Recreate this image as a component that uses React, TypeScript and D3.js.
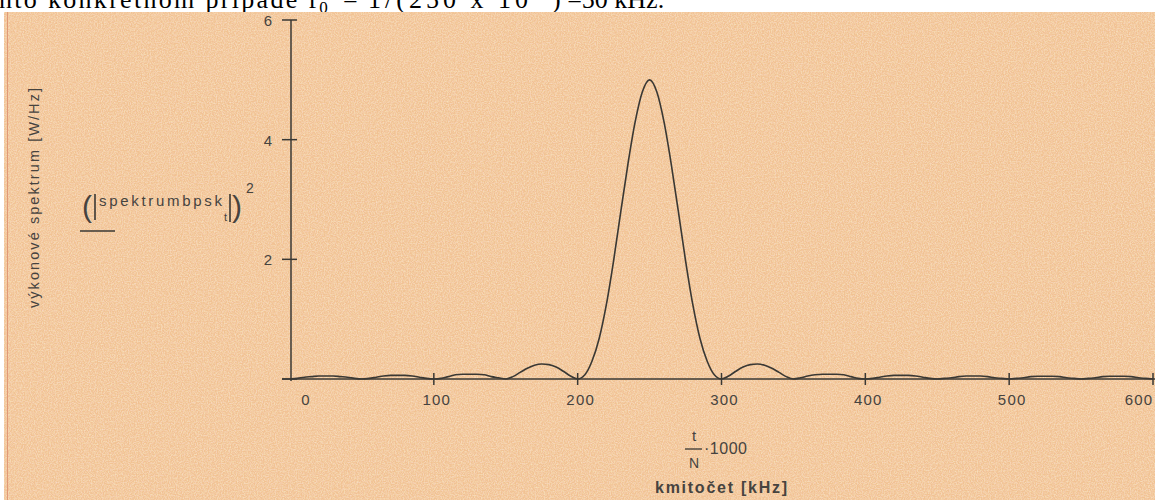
import { useEffect, useRef } from 'react';
import * as d3 from 'd3';

const freqs = d3.range(0, 605, 5);
const power = [
  0.0, 0.01, 0.03, 0.04, 0.05, 0.05, 0.05, 0.04, 0.03, 0.01,
  0.0, 0.01, 0.03, 0.05, 0.06, 0.06, 0.06, 0.05, 0.03, 0.01,
  0.0, 0.01, 0.04, 0.07, 0.08, 0.08, 0.08, 0.07, 0.04, 0.02,
  0.0, 0.04, 0.11, 0.18, 0.23, 0.25, 0.24, 0.2, 0.13, 0.05,
  0.0, 0.07, 0.3, 0.68, 1.25, 1.98, 2.8, 3.6, 4.3, 4.8,
  5.0, 4.8, 4.3, 3.6, 2.8, 1.98, 1.25, 0.68, 0.3, 0.07,
  0.0, 0.05, 0.13, 0.2, 0.24, 0.25, 0.23, 0.18, 0.11, 0.04,
  0.0, 0.02, 0.05, 0.07, 0.08, 0.08, 0.08, 0.07, 0.04, 0.01,
  0.0, 0.01, 0.03, 0.05, 0.06, 0.06, 0.06, 0.05, 0.03, 0.01,
  0.0, 0.01, 0.02, 0.04, 0.05, 0.05, 0.05, 0.04, 0.02, 0.01,
  0.0, 0.01, 0.02, 0.04, 0.045, 0.045, 0.045, 0.04, 0.02, 0.01,
  0.0, 0.01, 0.02, 0.04, 0.045, 0.045, 0.045, 0.04, 0.02, 0.01,
  0.0,
];
const xTicks = [0, 100, 200, 300, 400, 500, 600];
const yTicks = [0, 2, 4, 6];

const W = 1155;
const H = 500;
const INK = '#3a3834';
const TXT = '#46433f';

export default function App() {
  const ref = useRef<SVGSVGElement>(null);

  useEffect(() => {
    document.body.style.margin = '0';
    const svg = d3.select(ref.current);
    svg.selectAll('*').remove();

    const x = d3.scaleLinear().domain([0, 600]).range([290, 1153]);
    const y = d3.scaleLinear().domain([0, 6]).range([379, 20]);
    const sans = '"Liberation Sans", Arial, sans-serif';

    // paper grain
    const defs = svg.append('defs');
    const f1 = defs.append('filter').attr('id', 'grainA').attr('x', 0).attr('y', 0).attr('width', 1).attr('height', 1);
    f1.append('feTurbulence').attr('type', 'fractalNoise').attr('baseFrequency', 0.85).attr('numOctaves', 1).attr('seed', 3).attr('result', 'n');
    f1.append('feColorMatrix').attr('in', 'n').attr('type', 'matrix')
      .attr('values', '0 0 0 0 0.96  0 0 0 0 0.72  0 0 0 0 0.64  1.8 0 0 0 -0.75');
    f1.append('feComposite').attr('in2', 'SourceGraphic').attr('operator', 'in');
    const f2 = defs.append('filter').attr('id', 'grainB').attr('x', 0).attr('y', 0).attr('width', 1).attr('height', 1);
    f2.append('feTurbulence').attr('type', 'fractalNoise').attr('baseFrequency', 0.7).attr('numOctaves', 1).attr('seed', 11).attr('result', 'n');
    f2.append('feColorMatrix').attr('in', 'n').attr('type', 'matrix')
      .attr('values', '0 0 0 0 0.94  0 0 0 0 0.8  0 0 0 0 0.5  0 1.8 0 0 -0.8');
    f2.append('feComposite').attr('in2', 'SourceGraphic').attr('operator', 'in');

    svg.append('rect').attr('width', W).attr('height', H).attr('fill', '#ffffff');

    // cut-off text line above the scan
    const top = svg.append('text').attr('y', 8).attr('font-family', '"Liberation Serif", serif')
      .attr('font-size', 26).attr('fill', '#000');
    top.append('tspan').attr('x', -1).attr('textLength', 318).attr('lengthAdjust', 'spacing').text('nto konkrétnom prípade f');
    top.append('tspan').attr('font-size', 17).attr('dy', 5).text('0');
    top.append('tspan').attr('dy', -5).attr('x', 343).text('=');
    top.append('tspan').attr('x', 368).attr('textLength', 160).attr('lengthAdjust', 'spacing').text('1/(250 x 10');
    top.append('tspan').attr('font-size', 17).attr('dy', -10).text('-6');
    top.append('tspan').attr('dy', 10).attr('x', 552).text(') =50 kHz.');

    const bg = svg.append('g');
    bg.append('rect').attr('x', 4).attr('y', 12).attr('width', W - 4).attr('height', H - 12).attr('fill', '#f1c293');
    bg.append('rect').attr('x', 4).attr('y', 12).attr('width', W - 4).attr('height', H - 12).attr('fill', '#fff').attr('filter', 'url(#grainA)');
    bg.append('rect').attr('x', 4).attr('y', 12).attr('width', W - 4).attr('height', H - 12).attr('fill', '#fff').attr('filter', 'url(#grainB)');
    bg.append('line').attr('x1', 7.5).attr('x2', 7.5).attr('y1', 12).attr('y2', H)
      .attr('stroke', '#e09a78').attr('stroke-width', 1);

    const g = svg.append('g');

    // axes
    g.append('line').attr('x1', x.range()[0] - 8).attr('x2', W).attr('y1', y(0)).attr('y2', y(0))
      .attr('stroke', INK).attr('stroke-width', 1.5);
    g.append('line').attr('x1', x(0) + 1).attr('x2', x(0) + 1).attr('y1', y(6)).attr('y2', y(0) + 2)
      .attr('stroke', INK).attr('stroke-width', 1.5);

    g.selectAll('line.xt').data(xTicks.slice(1)).enter().append('line').attr('class', 'xt')
      .attr('x1', d => x(d)).attr('x2', d => x(d)).attr('y1', y(0) - 6).attr('y2', y(0) + 6)
      .attr('stroke', INK).attr('stroke-width', 1.5);
    g.selectAll('line.yt').data(yTicks).enter().append('line').attr('class', 'yt')
      .attr('x1', x(0) - 8).attr('x2', x(0) + 7).attr('y1', d => y(d)).attr('y2', d => y(d))
      .attr('stroke', INK).attr('stroke-width', 1.5);

    g.selectAll('text.xl').data(xTicks).enter().append('text').attr('class', 'xl')
      .attr('x', (d, i) => x(d) + (i === 0 ? 16 : i === xTicks.length - 1 ? -14 : 3))
      .attr('y', y(0) + 26).attr('text-anchor', 'middle')
      .attr('font-family', sans).attr('font-size', 15)
      .attr('letter-spacing', 1.2).attr('fill', TXT).text(d => d);
    g.selectAll('text.yl').data(yTicks.slice(1)).enter().append('text').attr('class', 'yl')
      .attr('x', x(0) - 18).attr('y', d => y(d) + 6).attr('text-anchor', 'end')
      .attr('font-family', sans).attr('font-size', 15)
      .attr('fill', TXT).text(d => d);

    // curve
    const line = d3.line<number>().x((_, i) => x(freqs[i])).y(d => y(d)).curve(d3.curveMonotoneX);
    g.append('path').datum(power).attr('d', line).attr('fill', 'none')
      .attr('stroke', INK).attr('stroke-width', 1.6).attr('stroke-linejoin', 'round');

    // y title
    g.append('text').attr('transform', 'translate(39,198) rotate(-90)').attr('text-anchor', 'middle')
      .attr('font-family', sans).attr('font-size', 14.5).attr('fill', TXT)
      .attr('textLength', 220).attr('lengthAdjust', 'spacing').text('výkonové spektrum [W/Hz]');

    // Mathcad expression
    const ex = g.append('g').attr('fill', TXT).attr('font-family', sans);
    ex.append('text').attr('x', 82).attr('y', 217).attr('font-size', 30).text('(');
    ex.append('line').attr('x1', 95).attr('x2', 95).attr('y1', 194).attr('y2', 220).attr('stroke', INK).attr('stroke-width', 1.6);
    ex.append('text').attr('x', 99).attr('y', 206).attr('font-size', 15)
      .attr('textLength', 123).attr('lengthAdjust', 'spacing').text('spektrumbpsk');
    ex.append('text').attr('x', 224).attr('y', 221).attr('font-size', 11).text('t');
    ex.append('line').attr('x1', 230).attr('x2', 230).attr('y1', 194).attr('y2', 222).attr('stroke', INK).attr('stroke-width', 1.6);
    ex.append('text').attr('x', 232).attr('y', 217).attr('font-size', 30).text(')');
    ex.append('text').attr('x', 246).attr('y', 193).attr('font-size', 14).text('2');
    ex.append('line').attr('x1', 80).attr('x2', 115).attr('y1', 231).attr('y2', 231).attr('stroke', INK).attr('stroke-width', 1.5);

    // x title
    const xt = g.append('g').attr('fill', TXT).attr('font-family', sans);
    xt.append('text').attr('x', 694).attr('y', 441).attr('text-anchor', 'middle').attr('font-size', 15).text('t');
    xt.append('line').attr('x1', 685).attr('x2', 702).attr('y1', 449).attr('y2', 449).attr('stroke', INK).attr('stroke-width', 1.3);
    xt.append('text').attr('x', 694).attr('y', 468).attr('text-anchor', 'middle').attr('font-size', 14).text('N');
    xt.append('text').attr('x', 704).attr('y', 454).attr('font-size', 16).attr('letter-spacing', 0.5).text('·1000');
    xt.append('text').attr('x', 655).attr('y', 493).attr('font-size', 16).attr('font-weight', 'bold')
      .attr('textLength', 132).attr('lengthAdjust', 'spacing').text('kmitočet [kHz]');
  }, []);

  return <svg ref={ref} width={W} height={H} style={{ display: 'block' }} />;
}
